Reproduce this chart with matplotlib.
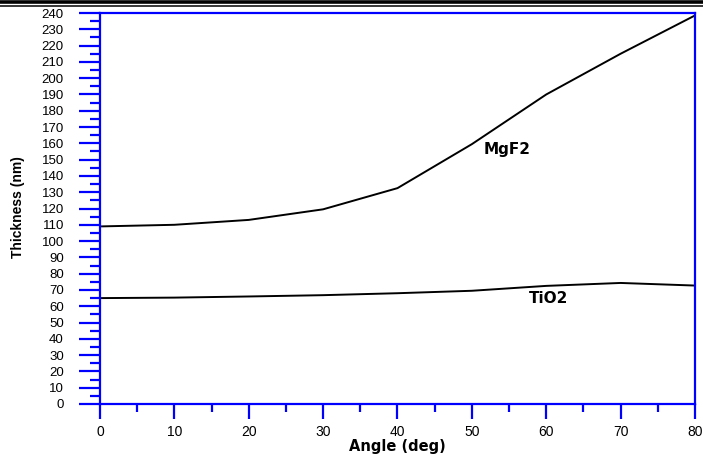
import matplotlib.pyplot as plt
from matplotlib.lines import Line2D

# angle of incidence (deg) and layer thickness (nm)
angle = [0, 10, 20, 30, 40, 50, 60, 70, 80]
mgf2 = [109, 110, 113, 119.5, 132.5, 159.5, 190, 215, 238.5]
tio2 = [65, 65.3, 66, 66.8, 68, 69.5, 72.5, 74.3, 72.7]

plt.rcParams['font.family'] = ['Liberation Sans', 'DejaVu Sans']

fig = plt.figure(figsize=(7.03, 4.55), dpi=100)
ax = fig.add_axes([0.1422, 0.1121, 0.8464, 0.8593])

ax.plot(angle, mgf2, color='black', lw=1.4)
ax.plot(angle, tio2, color='black', lw=1.4)

ax.text(54.8, 156, 'MgF2', fontsize=11, fontweight='bold', family='DejaVu Sans',
        ha='center', va='center')
ax.text(60.3, 64.8, 'TiO2', fontsize=11, fontweight='bold', family='DejaVu Sans',
        ha='center', va='center')

ax.set_xlim(0, 80)
ax.set_ylim(0, 240)
ax.set_xticks(range(0, 81, 10))
ax.set_xticks(range(5, 80, 10), minor=True)
ax.set_yticks(range(0, 241, 10))
ax.set_yticks(range(5, 240, 10), minor=True)

blue = '#0000ff'
for s in ax.spines.values():
    s.set_color(blue)
    s.set_linewidth(1.6)

ax.tick_params(axis='y', which='major', direction='out', length=15, width=1.6,
               color=blue, labelsize=9.5, pad=11)
ax.tick_params(axis='y', which='minor', direction='out', length=7, width=1.6, color=blue)
ax.tick_params(axis='x', which='major', direction='out', length=11, width=1.6,
               color=blue, labelsize=10, pad=4)
ax.tick_params(axis='x', which='minor', direction='out', length=6, width=1.6, color=blue)

ax.set_xlabel('Angle (deg)', fontsize=10.5, fontweight='bold', family='DejaVu Sans')
ax.xaxis.set_label_coords(0.499, -0.09)
ax.set_ylabel('Thickness (nm)', fontsize=10, fontweight='bold')
ax.yaxis.set_label_coords(-0.126, 0.503)

# double rule along the top edge
fig.add_artist(Line2D([0, 1], [0.9965, 0.9965], color='black', lw=2.6, transform=fig.transFigure))
fig.add_artist(Line2D([0, 1], [0.9870, 0.9870], color='black', lw=1.1, transform=fig.transFigure))

fig.savefig('out.png', dpi=100)
